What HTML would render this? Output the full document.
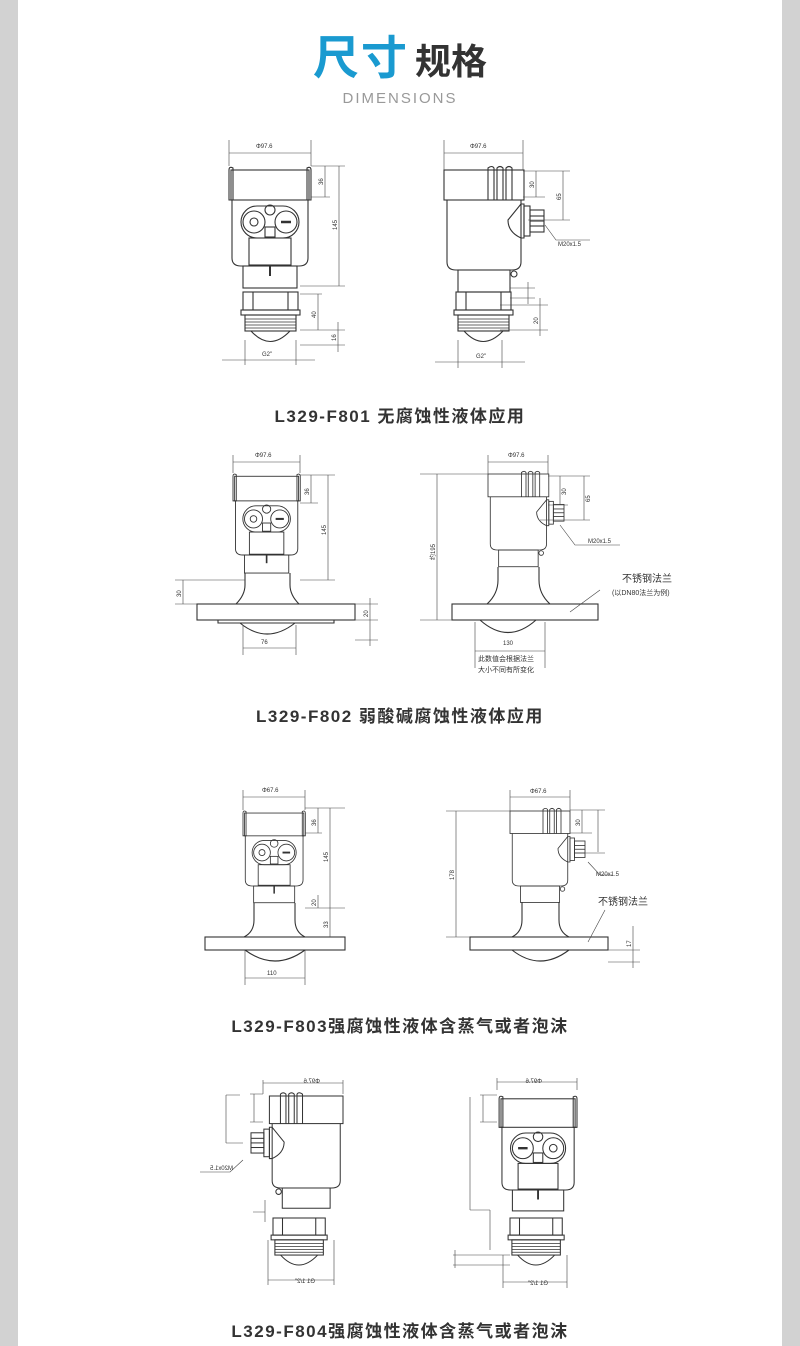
<!DOCTYPE html>
<html><head><meta charset="utf-8"><style>
html,body{margin:0;padding:0;background:#fff}
body{width:800px;height:1346px;position:relative;overflow:hidden;font-family:"Liberation Sans","Noto Sans CJK SC",sans-serif}
.strip{position:absolute;top:0;bottom:0;width:18px;background:#d2d2d2}
.t1{position:absolute;top:22px;left:0;width:800px;text-align:center;white-space:nowrap}
.t1 .a{color:#1a9ad0;font-size:46px;font-weight:bold;letter-spacing:2px}
.t1 .b{color:#333;font-size:36px;font-weight:bold;margin-left:6px}
.t2{position:absolute;top:90px;left:0;width:800px;text-align:center;color:#999;font-size:15px;letter-spacing:2px}
.cap{position:absolute;left:0;width:800px;text-align:center;font-size:17px;font-weight:bold;color:#333;letter-spacing:1.5px}
svg{position:absolute;left:0;top:0}
</style></head><body>
<div class="strip" style="left:0"></div><div class="strip" style="right:0"></div>
<div class="t1"><span class="a">尺寸</span><span class="b">规格</span></div>
<div class="t2">DIMENSIONS</div>
<div class="cap" style="top:402px">L329-F801 无腐蚀性液体应用</div>
<div class="cap" style="top:702px">L329-F802 弱酸碱腐蚀性液体应用</div>
<div class="cap" style="top:1012px">L329-F803强腐蚀性液体含蒸气或者泡沫</div>
<div class="cap" style="top:1317px">L329-F804强腐蚀性液体含蒸气或者泡沫</div>
<svg width="800" height="1346" viewBox="0 0 800 1346">
<defs>
<g id="front" fill="none" stroke="#333" stroke-width="1.1">
<path d="M0,4 Q0,0 4,2 L4,34 L0,34Z M82,4 Q82,0 78,2 L78,34 L82,34Z"/>
<rect x="2" y="4" width="78" height="30"/>
<path d="M3,34 L3,92 Q3,100 12,100 L70,100 Q79,100 79,92 L79,34"/>
<rect x="12" y="40" width="58" height="32" rx="16"/>
<circle cx="25" cy="56" r="11"/><circle cx="25" cy="56" r="4"/>
<circle cx="57" cy="56" r="11"/><line x1="52" y1="56" x2="62" y2="56" stroke-width="2.5"/>
<circle cx="41" cy="44" r="5"/><rect x="36" y="61" width="10" height="10"/>
<rect x="20" y="72" width="42" height="27"/>
<rect x="14" y="100" width="54" height="22"/>
<line x1="41" y1="100" x2="41" y2="110" stroke-width="2"/>
</g>
<g id="side" fill="none" stroke="#333" stroke-width="1.1">
<rect x="0" y="0" width="80" height="30"/>
<path d="M44,30 L44,-2 Q48,-5 50,-2 L50,30 M53,30 L53,-2 Q56,-5 59,-2 L59,30 M62,30 L62,-2 Q65,-5 68,-2 L68,30"/>
<path d="M3,30 L3,92 Q3,100 12,100 L68,100 Q77,100 77,92 L77,30"/>
<path d="M77,34 L64,50 Q64,62 77,68 L80,68 L80,34Z"/>
<rect x="80" y="36" width="6" height="30"/><rect x="86" y="40" width="14" height="22"/>
<line x1="86" y1="46" x2="100" y2="46"/><line x1="86" y1="51" x2="100" y2="51"/><line x1="86" y1="56" x2="100" y2="56"/>
<rect x="14" y="100" width="52" height="22"/>
<circle cx="70" cy="104" r="3"/>
</g>
<g id="nut" fill="none" stroke="#333" stroke-width="1.1">
<rect x="0" y="0" width="55" height="18"/><line x1="10" y1="0" x2="10" y2="18"/><line x1="45" y1="0" x2="45" y2="18"/>
<rect x="-2" y="18" width="59" height="5"/>
<rect x="2" y="23" width="51" height="16"/>
<path d="M2,27 H53 M2,30 H53 M2,33 H53 M2,36 H53" stroke-width="0.8"/>
<path d="M8,39 Q27,60 47,39"/>
</g>
</defs>
<g font-size="6" fill="#333" font-family="Liberation Sans,sans-serif">
<use href="#front" x="229" y="166"/>
<use href="#nut" x="243" y="292"/>
<use href="#side" x="444" y="170"/>
<use href="#nut" x="456" y="292"/>
<g stroke="#444" stroke-width="0.6" fill="none">
<path d="M229,140V166 M311,140V166 M229,153H311 M311,166H345 M311,197H330 M300,286H345 M325,166V197 M339,166V286 M300,294H322 M300,330H345 M300,345H345 M318,294V330 M338,322V352 M222,360H315 M245,340V365 M296,340V365"/>
<path d="M444,140V170 M523,140V170 M444,153H523 M523,171H570 M523,197H545 M528,220H570 M536,171V197 M563,171V220 M545,225L556,240H590 M510,288H535 M510,298H535 M528,282V304 M500,305H548 M500,330H548 M540,298V336 M435,362H525 M458,340V368 M502,340V368"/>
</g>
<text x="256" y="148">Φ97.6</text><text x="470" y="148">Φ97.6</text>
<text x="262" y="356">G2"</text><text x="476" y="358">G2"</text>
<text x="558" y="246">M20x1.5</text>
<text transform="translate(323,185) rotate(-90)">36</text>
<text transform="translate(337,230) rotate(-90)">145</text>
<text transform="translate(316,318) rotate(-90)">40</text>
<text transform="translate(336,341) rotate(-90)">16</text>
<text transform="translate(534,188) rotate(-90)">30</text>
<text transform="translate(561,200) rotate(-90)">65</text>
<text transform="translate(538,324) rotate(-90)">20</text>
<use href="#front" transform="translate(233,473) scale(0.82)"/>
<use href="#side" transform="translate(488,474) scale(0.76)"/>
<g stroke="#333" stroke-width="1.1" fill="none">
<path d="M245,573 V585 Q245,595 236,604 M290,573 V585 Q290,595 299,604"/>
<rect x="197" y="604" width="158" height="16"/><path d="M218,620V623H334V620 M240,623 Q267,645 295,623"/>
<path d="M498,567 V580 Q498,594 487,604 M539,567 V580 Q539,594 550,604"/>
<rect x="452" y="604" width="146" height="16"/><path d="M480,620 Q508,645 536,620"/>
</g>
<g stroke="#444" stroke-width="0.6" fill="none">
<path d="M233,455V473 M300,455V473 M233,462H300 M300,475H335 M300,503H318 M300,580H335 M311,475V503 M328,475V580 M175,580H245 M175,604H197 M183,580V604 M355,604H378 M355,620H378 M355,640H378 M370,598V646 M243,625V655 M296,625V655 M243,648H296"/>
<path d="M488,455V474 M548,455V474 M488,462H548 M420,474H488 M420,620H452 M437,474V620 M548,476H590 M548,505H568 M560,476V505 M540,520H590 M584,476V520 M560,525L575,545H620 M600,590L570,612 M475,622V668 M545,622V668 M475,651H545"/>
</g>
<text x="255" y="457">Φ97.6</text><text x="508" y="457">Φ97.6</text>
<text x="261" y="644">76</text><text x="503" y="645">130</text>
<text x="588" y="543">M20x1.5</text>
<text x="478" y="661" font-size="7">此数值会根据法兰</text><text x="478" y="672" font-size="7">大小不同有所变化</text>
<text x="622" y="582" font-size="10">不锈钢法兰</text><text x="612" y="595" font-size="7">(以DN80法兰为例)</text>
<text transform="translate(309,495) rotate(-90)">36</text>
<text transform="translate(326,535) rotate(-90)">145</text>
<text transform="translate(181,597) rotate(-90)">30</text>
<text transform="translate(368,617) rotate(-90)">20</text>
<text transform="translate(435,560) rotate(-90)">约195</text>
<text transform="translate(566,495) rotate(-90)">30</text>
<text transform="translate(590,502) rotate(-90)">65</text>
<use href="#front" transform="translate(243,810) scale(0.76)"/>
<use href="#side" transform="translate(510,811) scale(0.75)"/>
<g stroke="#333" stroke-width="1.1" fill="none">
<path d="M254,903 V920 Q254,932 244,937 M295,903 V920 Q295,932 305,937"/>
<rect x="205" y="937" width="140" height="13"/><path d="M245,950 Q275,972 305,950"/>
<path d="M522,902 V920 Q522,932 512,937 M559,902 V920 Q559,932 569,937"/>
<rect x="470" y="937" width="138" height="13"/><path d="M512,950 Q540,972 569,950"/>
</g>
<g stroke="#444" stroke-width="0.6" fill="none">
<path d="M243,790V810 M305,790V810 M243,797H305 M305,808H345 M305,833H322 M305,908H345 M305,937H340 M318,808V833 M330,808V908 M330,908V937 M318,895V908 M245,950V985 M305,950V985 M245,978H305"/>
<path d="M510,790V811 M570,790V811 M510,797H570 M446,811H510 M446,937H470 M456,811V937 M570,810H605 M570,833H592 M582,810V833 M598,810V852 M575,853H605 M588,862L600,875H612 M605,910L588,942 M608,950H640 M608,962H640 M633,926V968"/>
</g>
<text x="262" y="792">Φ67.6</text><text x="530" y="793">Φ67.6</text>
<text x="267" y="975">110</text>
<text x="596" y="876">M20x1.5</text>
<text x="598" y="905" font-size="10">不锈钢法兰</text>
<text transform="translate(316,826) rotate(-90)">36</text>
<text transform="translate(328,862) rotate(-90)">145</text>
<text transform="translate(316,906) rotate(-90)">20</text>
<text transform="translate(328,928) rotate(-90)">33</text>
<text transform="translate(454,880) rotate(-90)">178</text>
<text transform="translate(580,826) rotate(-90)">30</text>
<text transform="translate(631,947) rotate(-90)">17</text>
<use href="#side" transform="translate(343,1096) scale(-0.92,0.92)"/>
<use href="#nut" transform="translate(273,1218) scale(0.95)"/>
<use href="#front" transform="translate(577,1095) scale(-0.95,0.95)"/>
<use href="#nut" transform="translate(510,1218) scale(0.95)"/>
<g stroke="#444" stroke-width="0.6" fill="none">
<path d="M263,1080V1094 M343,1080V1094 M263,1083H343 M250,1094H263 M250,1122H263 M254,1094V1122 M240,1095H226 M226,1095V1143 M226,1143H243 M243,1160L230,1172H200 M265,1200V1222 M253,1212H265 M268,1240V1285 M334,1240V1285 M268,1280H334"/>
<path d="M497,1082H577 M497,1078V1090 M577,1078V1090 M480,1095H497 M480,1122H497 M483,1095V1122 M470,1097V1210 M470,1210H490 M490,1210V1250 M453,1255H510 M453,1265H510 M455,1250V1268 M503,1255V1288 M567,1255V1288 M503,1282H567"/>
</g>
<text transform="translate(320,1083) scale(-1,1)">Φ97.6</text>
<text transform="translate(542,1083) scale(-1,1)">Φ97.6</text>
<text transform="translate(315,1283) scale(-1,1)">G1 1/2"</text>
<text transform="translate(548,1285) scale(-1,1)">G1 1/2"</text>
<text transform="translate(233,1170) scale(-1,1)">M20x1.5</text>
</g>
</svg>
</body></html>
